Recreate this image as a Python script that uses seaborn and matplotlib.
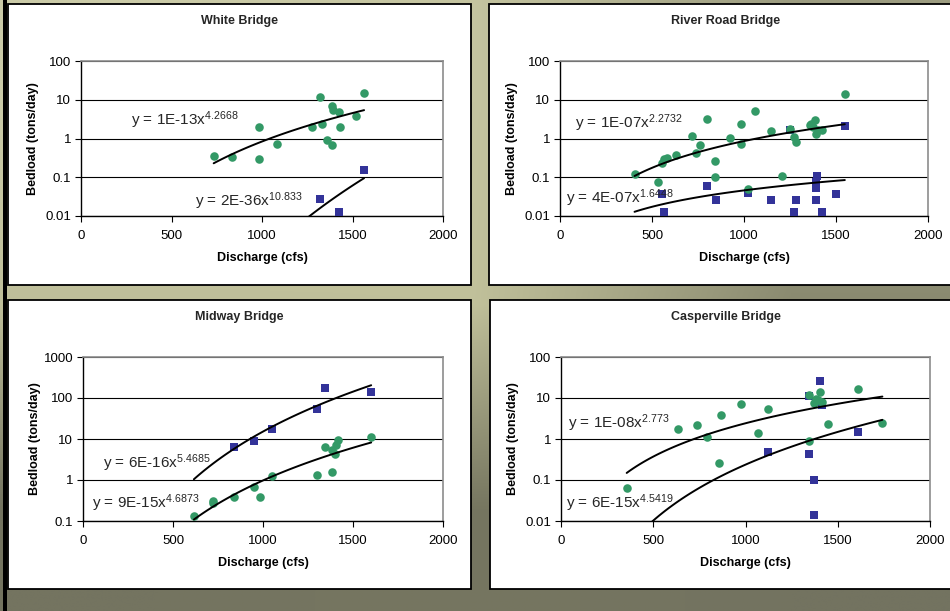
import numpy as np
import matplotlib
matplotlib.use("Agg")
import matplotlib.pyplot as plt
import seaborn as sns
from matplotlib.patches import Rectangle
from matplotlib.colors import to_rgb
from matplotlib.ticker import FixedLocator, FuncFormatter, NullLocator

sns.set_theme(style="white")
plt.rcParams["font.family"] = ["Liberation Sans", "DejaVu Sans"]
plt.rcParams["mathtext.fontset"] = "custom"
plt.rcParams["mathtext.rm"] = "Liberation Sans"
plt.rcParams["mathtext.default"] = "regular"

GREEN = "#339966"
NAVY = "#333399"

# --- data (discharge in cfs, bedload in tons/day) ---
white_green_q = [733, 834, 981, 981, 1081, 1276, 1318, 1331, 1357, 1387, 1390, 1387, 1424, 1431, 1519, 1564]
white_green_load = [0.35, 0.33, 2.0, 0.29, 0.74, 2.0, 12, 2.4, 0.91, 6.7, 5.5, 0.70, 4.9, 2.0, 3.9, 15]
white_blue_q = [1318, 1425, 1564]
white_blue_load = [0.027, 0.013, 0.15]

river_green_q = [405, 534, 557, 566, 579, 632, 719, 737, 762, 800, 844, 842, 924, 984, 984,
                 1022, 1060, 1145, 1207, 1249, 1274, 1281, 1356, 1365, 1377, 1388, 1392, 1401, 1423, 1548]
river_green_load = [0.12, 0.075, 0.23, 0.29, 0.32, 0.38, 1.17, 0.42, 0.69, 3.2, 0.27, 0.10, 1.02, 2.3, 0.73,
                    0.05, 5.2, 1.55, 0.11, 1.74, 1.08, 0.79, 2.2, 2.4, 2.0, 3.0, 1.27, 1.66, 1.66, 13.9]
river_blue_q = [557, 563, 800, 849, 1022, 1145, 1249, 1274, 1281, 1392, 1392, 1392, 1396, 1423, 1501, 1548]
river_blue_load = [0.038, 0.013, 0.058, 0.026, 0.039, 0.026, 1.7, 0.013, 0.026, 0.026, 0.052, 0.075, 0.11,
                   0.013, 0.038, 2.1]

midway_green_q = [616, 721, 721, 837, 948, 982, 1048, 1299, 1344, 1386, 1386, 1401, 1405, 1414, 1601]
midway_green_load = [0.135, 0.30, 0.27, 0.38, 0.66, 0.38, 1.28, 1.35, 6.5, 1.54, 5.5, 4.4, 7.1, 9.6, 11]
midway_blue_q = [837, 948, 1048, 1299, 1344, 1601]
midway_blue_load = [6.3, 8.8, 18, 53, 175, 140]

casper_green_q = [356, 632, 737, 793, 855, 865, 976, 1068, 1124, 1342, 1342, 1373, 1380, 1395, 1405,
                  1413, 1449, 1608, 1742]
casper_green_load = [0.063, 1.72, 2.2, 1.1, 0.255, 3.9, 7.3, 1.4, 5.4, 11.8, 0.91, 7.5, 9.6, 9.0, 13.7,
                     8.0, 2.3, 16.6, 2.5]
casper_blue_q = [1124, 1342, 1342, 1373, 1373, 1405, 1413, 1608]
casper_blue_load = [0.48, 11.4, 0.42, 0.098, 0.0137, 26, 6.9, 1.5]

titles = ["White Bridge", "River Road Bridge", "Midway Bridge", "Casperville Bridge"]
green_eq = [r"y = 1E-13x$^{4.2668}$", r"y = 1E-07x$^{2.2732}$", r"y = 9E-15x$^{4.6873}$", r"y = 1E-08x$^{2.773}$"]
blue_eq = [r"y = 2E-36x$^{10.833}$", r"y = 4E-07x$^{1.6448}$", r"y = 6E-16x$^{5.4685}$", r"y = 6E-15x$^{4.5419}$"]
y_limits = [(0.01, 100), (0.01, 100), (0.1, 1000), (0.01, 100)]

series = [
    (white_green_q, white_green_load, white_blue_q, white_blue_load),
    (river_green_q, river_green_load, river_blue_q, river_blue_load),
    (midway_green_q, midway_green_load, midway_blue_q, midway_blue_load),
    (casper_green_q, casper_green_load, casper_blue_q, casper_blue_load),
]

# layout in pixels (figure is 950 x 611)
W, H = 950, 611
boxes = [(8, 4, 471, 285), (489, 4, 962, 285), (8, 300, 471, 589), (490, 300, 962, 589)]
axes_px = [(81, 61, 443, 216), (560, 61, 928, 216), (83, 357, 443, 521), (561, 357, 930, 521)]
# equation positions: (x, baseline y) in pixels
green_pos = [(131, 125.5), (575, 127.5), (92, 508.5), (568, 428.5)]
blue_pos = [(195, 206.5), (566, 202.5), (103, 468.5), (566, 508.5)]


def power_fit(q, load):
    b, log_a = np.polyfit(np.log10(q), np.log10(load), 1)
    return 10 ** log_a, b


fig = plt.figure(figsize=(9.5, 6.11), dpi=100)

# gradient background + panel boxes
bg = fig.add_axes([0, 0, 1, 1])
bg.set_zorder(-5)
grad = np.array([
    [to_rgb("#cbcba8"), to_rgb("#c4c4a0"), to_rgb("#9c9c80")],
    [to_rgb("#bfbf9a"), to_rgb("#c0c09a"), to_rgb("#8a8a70")],
    [to_rgb("#747460"), to_rgb("#767660"), to_rgb("#737360")],
])
bg.imshow(grad, extent=(0, 1, 0, 1), aspect="auto", interpolation="bilinear", origin="upper")
bg.add_patch(Rectangle((3 / W, 0), 4 / W, 1, color="black", lw=0))
for x0, y0, x1, y1 in boxes:
    bg.add_patch(Rectangle((x0 / W, 1 - y1 / H), (x1 - x0) / W, (y1 - y0) / H,
                           facecolor="white", edgecolor="black", lw=1.3))
bg.set_xlim(0, 1)
bg.set_ylim(0, 1)
bg.axis("off")

for i in range(4):
    gq, gl, bq, bl = series[i]
    left, top, right, bottom = axes_px[i]
    ax = fig.add_axes([left / W, 1 - bottom / H, (right - left) / W, (bottom - top) / H])
    ax.set_facecolor("white")

    sns.scatterplot(x=bq, y=bl, ax=ax, color=NAVY, marker="s", s=34, linewidth=0, zorder=3)
    sns.scatterplot(x=gq, y=gl, ax=ax, color=GREEN, marker="o", s=38, linewidth=0, zorder=3)

    # power trendlines (log-log least squares), drawn over the shared discharge range
    all_q = list(gq) + list(bq)
    q_line = np.linspace(min(all_q), max(all_q), 80)
    for q, load in [(gq, gl), (bq, bl)]:
        a, b = power_fit(q, load)
        sns.lineplot(x=q_line, y=a * q_line ** b, ax=ax, color="black", lw=1.4,
                     sort=False, estimator=None, zorder=4)

    ax.set_yscale("log")
    lo, hi = y_limits[i]
    ax.set_ylim(lo, hi)
    ax.set_xlim(0, 2000)
    decades = [10.0 ** k for k in range(int(np.log10(lo)), int(np.log10(hi)) + 1)]
    ax.yaxis.set_major_locator(FixedLocator(decades))
    ax.yaxis.set_minor_locator(NullLocator())
    ax.yaxis.set_major_formatter(FuncFormatter(lambda v, p: f"{v:g}"))
    ax.set_xticks([0, 500, 1000, 1500, 2000])
    ax.yaxis.grid(True, color="black", lw=0.8)
    ax.xaxis.grid(False)

    for side in ["left", "bottom"]:
        ax.spines[side].set_color("black")
        ax.spines[side].set_linewidth(1.0)
    for side in ["top", "right"]:
        ax.spines[side].set_color("#8c8c8c")
        ax.spines[side].set_linewidth(1.2)

    ax.tick_params(axis="both", which="major", direction="out", length=4, width=0.8,
                   color="black", labelsize=9.5, labelcolor="black", bottom=True, left=True)
    ax.tick_params(axis="x", pad=6)
    ax.tick_params(axis="y", pad=3)

    h = bottom - top
    w = right - left
    ax.set_xlabel("Discharge (cfs)", fontsize=9, fontweight="bold", color="black")
    ax.set_ylabel("Bedload (tons/day)", fontsize=9, fontweight="bold", color="black")
    ax.xaxis.set_label_coords(0.5, -42 / h)
    ax.xaxis.label.set_va("center")
    ax.yaxis.set_label_coords(-48 / w, 0.5)
    ax.yaxis.label.set_va("center")

    gx, gy = green_pos[i]
    bx, by = blue_pos[i]
    fig.text(gx / W, 1 - gy / H, green_eq[i], fontsize=11, va="baseline", ha="left")
    fig.text(bx / W, 1 - by / H, blue_eq[i], fontsize=11, va="baseline", ha="left")

    x0, y0, x1, y1 = boxes[i]
    ty = 21 if i < 2 else 317
    fig.text((x0 + x1) / 2 / W, 1 - ty / H, titles[i], fontsize=9, fontweight="bold",
             ha="center", va="center")

fig.savefig("out.png", dpi=100)
